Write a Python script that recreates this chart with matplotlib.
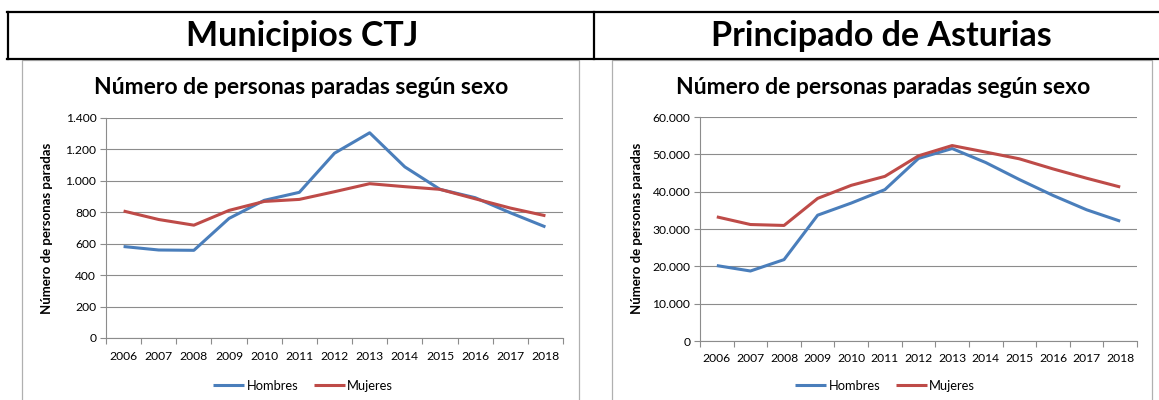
"""
Personas paradas segun sexo: Municipios CTJ vs Principado de Asturias
"""

import matplotlib
matplotlib.use('Agg')
from matplotlib import pyplot as plt
from matplotlib.lines import Line2D
from matplotlib.patches import Rectangle

years = ['2006', '2007', '2008', '2009', '2010', '2011', '2012',
         '2013', '2014', '2015', '2016', '2017', '2018']

ctj_hombres = [582, 560, 558, 761, 876, 927, 1176, 1306, 1089, 946, 893, 797, 707]
ctj_mujeres = [808, 754, 718, 812, 869, 882, 931, 982, 963, 946, 886, 827, 778]

ast_hombres = [20200, 18750, 21800, 33700, 36950, 40550, 48900, 51550,
               47800, 43250, 39000, 35150, 32100]
ast_mujeres = [33250, 31200, 30950, 38200, 41700, 44100, 49600, 52350,
               50600, 48800, 46100, 43600, 41250]

ctj_yticks = [0, 200, 400, 600, 800, 1000, 1200, 1400]
ctj_ylabels = ['0', '200', '400', '600', '800', '1.000', '1.200', '1.400']
ast_yticks = [0, 10000, 20000, 30000, 40000, 50000, 60000]
ast_ylabels = ['0', '10.000', '20.000', '30.000', '40.000', '50.000', '60.000']

headers = ['Municipios CTJ', 'Principado de Asturias']
chart_title = 'Número de personas paradas según sexo'
ylabel = 'Número de personas paradas'

BLUE = '#4a7ebb'
RED = '#be4b48'
GRID = '#8c8c8c'
FONT = 'Lato'

W, H = 1159, 400
plt.rcParams['font.family'] = [FONT, 'DejaVu Sans']


def fx(px):
    return px / W


def fy(py):
    return 1 - py / H


fig = plt.figure(figsize=(W / 100, H / 100), dpi=100)

# header table
for y in (12, 59):
    fig.add_artist(Line2D([fx(7), 1], [fy(y), fy(y)], color='black', lw=1.6))
for x in (8, 594):
    fig.add_artist(Line2D([fx(x), fx(x)], [fy(12), fy(59)], color='black', lw=1.6))
fig.text(fx(302), fy(36), headers[0], ha='center', va='center',
         fontsize=24.5, fontweight='bold')
fig.text(fx(881), fy(36), headers[1], ha='center', va='center',
         fontsize=24.5, fontweight='bold')

# chart boxes
for x0, x1 in ((22, 579), (612, 1152)):
    fig.add_artist(Rectangle((fx(x0), fy(410)), fx(x1) - fx(x0), fy(60) - fy(410),
                             fill=False, edgecolor='#b0b0b0', lw=0.9))


def draw(ax_box, hom, muj, yticks, ylabels, box_cx, ylab_x):
    x0, x1, ytop, ybot = ax_box
    ax = fig.add_axes([fx(x0), fy(ybot), fx(x1) - fx(x0), fy(ytop) - fy(ybot)])
    xs = [i + 0.5 for i in range(len(years))]
    ax.plot(xs, hom, color=BLUE, lw=2.2, label='Hombres', solid_capstyle='butt')
    ax.plot(xs, muj, color=RED, lw=2.2, label='Mujeres', solid_capstyle='butt')
    ax.set_xlim(0, len(years))
    ax.set_ylim(yticks[0], yticks[-1])
    ax.set_xticks(range(len(years) + 1))
    ax.set_xticklabels([])
    ax.set_xticks(xs, minor=True)
    ax.set_xticklabels(years, minor=True)
    ax.tick_params(axis='x', which='major', length=4, color=GRID, width=0.8)
    ax.tick_params(axis='x', which='minor', length=0, pad=9, labelsize=8.7)
    ax.set_yticks(yticks)
    ax.set_yticklabels(ylabels)
    ax.tick_params(axis='y', length=4, color=GRID, width=0.8, pad=3, labelsize=8.7)
    ax.grid(axis='y', color=GRID, lw=0.8)
    ax.set_axisbelow(True)
    for s in ('top', 'right'):
        ax.spines[s].set_visible(False)
    for s in ('left', 'bottom'):
        ax.spines[s].set_color(GRID)
        ax.spines[s].set_linewidth(0.8)
    fig.text(fx(box_cx + 1), fy(87), chart_title, ha='center', va='center',
             fontsize=16.5, fontweight='bold')
    fig.text(fx(ylab_x), fy(228), ylabel, rotation=90,
             ha='center', va='center', fontsize=9.5, fontweight='bold')
    fig.legend(handles=ax.get_lines(), loc='center', ncol=2, frameon=False,
               bbox_to_anchor=(fx(box_cx + 3), fy(386)), fontsize=9.3,
               handlelength=2.4, handletextpad=0.2, columnspacing=1.2,
               borderaxespad=0, borderpad=0)
    return ax


draw((106, 563, 118, 338), ctj_hombres, ctj_mujeres, ctj_yticks, ctj_ylabels, 300, 47)
draw((700, 1137, 117, 341), ast_hombres, ast_mujeres, ast_yticks, ast_ylabels, 882, 637)

fig.savefig('out.png', dpi=100)
